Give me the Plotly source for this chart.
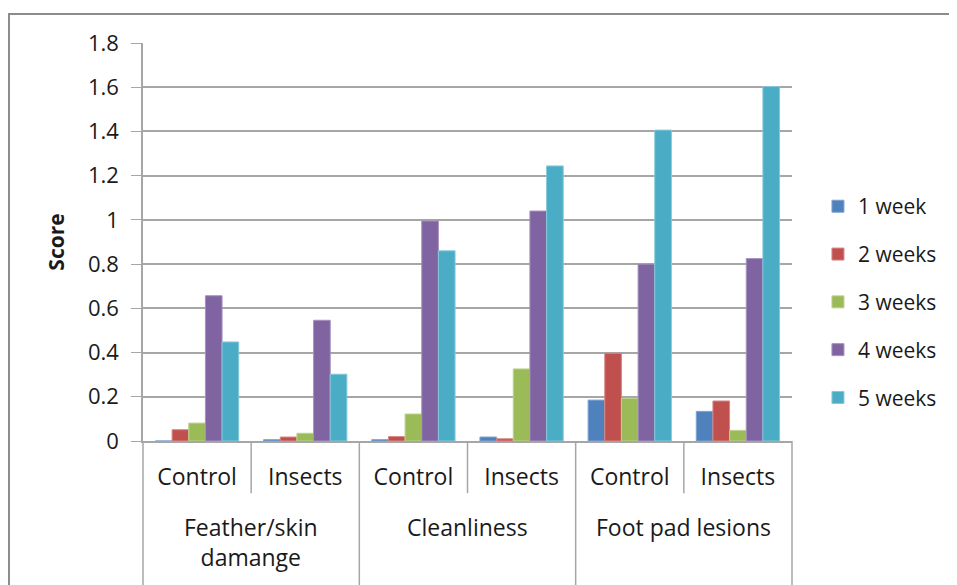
import plotly.graph_objects as go

measures = ["Feather/skin<br>damange", "Cleanliness", "Foot pad lesions"]
groups = ["Control", "Insects", "Control", "Insects", "Control", "Insects"]
categories = ["Feather Control", "Feather Insects", "Clean Control",
              "Clean Insects", "Foot Control", "Foot Insects"]

series_names = ["1 week", "2 weeks", "3 weeks", "4 weeks", "5 weeks"]
week1 = [0.0, 0.006, 0.006, 0.018, 0.185, 0.134]
week2 = [0.051, 0.018, 0.02, 0.01, 0.397, 0.181]
week3 = [0.081, 0.035, 0.122, 0.326, 0.193, 0.048]
week4 = [0.657, 0.546, 0.995, 1.04, 0.80, 0.825]
week5 = [0.448, 0.302, 0.86, 1.244, 1.406, 1.603]
colors = ["#4F81BD", "#C0504D", "#9BBB59", "#8064A2", "#4BACC6"]
borders = ["#7FA3D1", "#D68886", "#BCD28E", "#A592BE", "#86C8DA"]

font = "Open Sans, Calibri, sans-serif"
grey = "#A6A6A6"

fig = go.Figure()
for name, vals, col, bc in zip(series_names, [week1, week2, week3, week4, week5], colors, borders):
    fig.add_trace(go.Bar(
        x=categories, y=vals, name=name, legendgroup=name,
        marker=dict(color=col, line=dict(color=bc, width=1)),
    ))

fig.update_layout(
    width=949, height=577,
    margin=dict(l=135, r=165, t=35, b=144),
    barmode="group", bargap=0.23, bargroupgap=0,
    plot_bgcolor="white", paper_bgcolor="white",
    font=dict(family=font, size=22, color="#1a1a1a"),
    legend=dict(x=1.04, y=0.349, yanchor="middle", xanchor="left",
                font=dict(size=21), itemwidth=30, tracegroupgap=17.5),
    showlegend=True,
)
fig.update_yaxes(
    range=[0, 1.8], dtick=0.2, tickformat="~g",
    showgrid=True, gridcolor=grey, gridwidth=1.5,
    showline=True, linecolor=grey, linewidth=1.5,
    ticks="outside", ticklen=10, tickcolor=grey, ticklabelstandoff=8,
    tickfont=dict(size=22), zeroline=False,
    title=dict(text="<b>Score</b>", font=dict(size=21), standoff=18),
)
fig.update_xaxes(
    tickvals=categories, ticktext=groups,
    showline=True, linecolor=grey, linewidth=1.5,
    ticks="outside", ticklen=15, tickcolor="rgba(0,0,0,0)",
    tickfont=dict(size=23),
)

n = len(categories)
# outer dividers run to the bottom of the chart, inner ones are short
for k in range(0, n + 1, 2):
    fig.add_shape(type="line", xref="paper", yref="paper",
                  x0=k / n, x1=k / n, y0=0, y1=-0.5,
                  line=dict(color=grey, width=1.5))
for k in range(1, n, 2):
    fig.add_shape(type="line", xref="paper", yref="paper",
                  x0=k / n, x1=k / n, y0=0, y1=-0.131,
                  line=dict(color=grey, width=1.5))
for i, m in enumerate(measures):
    fig.add_annotation(x=(2 * i + 1) / n, y=-0.170, xref="paper", yref="paper",
                       text=m, showarrow=False, xanchor="center", yanchor="top",
                       font=dict(size=23))

fig.add_shape(type="rect", xref="paper", yref="paper",
              x0=-0.2065, x1=1.5, y0=-0.6, y1=1.073,
              line=dict(color="#8C8C8C", width=2), layer="below")

fig.write_html("out.html")
